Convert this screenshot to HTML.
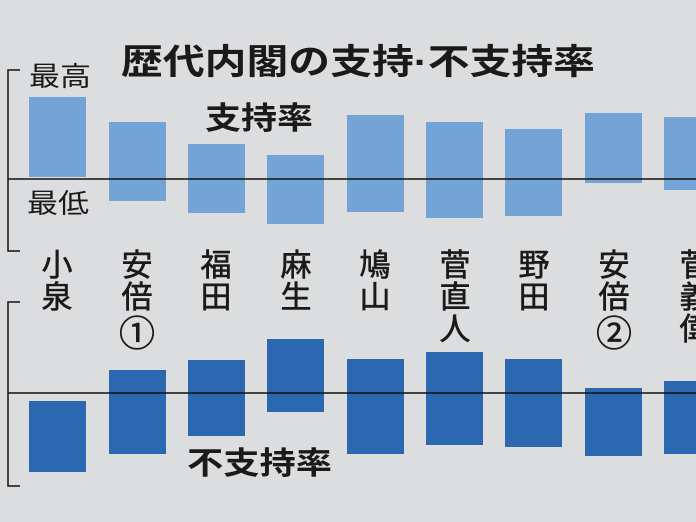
<!DOCTYPE html>
<html><head><meta charset="utf-8"><style>
html,body{margin:0;padding:0;background:#dcdddf;}
svg{display:block}
text{font-family:"Liberation Sans","Noto Sans CJK JP",sans-serif;fill:#1a1a1a}
.b{font-weight:bold}
.n{font-size:31px;text-anchor:middle;stroke:#1a1a1a;stroke-width:0.6}
.c{font-size:36px}
</style></head><body>
<svg width="696" height="522" viewBox="0 0 696 522" xmlns="http://www.w3.org/2000/svg">
<rect width="696" height="522" fill="#dcdddf"/>
<g fill="#74a4d6">
<rect x="29" y="97" width="57" height="80"/>
<rect x="109" y="122" width="57" height="79"/>
<rect x="188" y="144" width="57" height="69"/>
<rect x="267" y="155" width="57" height="69"/>
<rect x="347" y="115" width="57" height="97"/>
<rect x="426" y="122" width="57" height="96"/>
<rect x="505" y="129" width="57" height="87"/>
<rect x="585" y="113" width="57" height="70"/>
<rect x="664" y="117" width="40" height="73"/>
</g>
<g fill="#2c68b0">
<rect x="29" y="401" width="57" height="71"/>
<rect x="109" y="370" width="57" height="84"/>
<rect x="188" y="360" width="57" height="76"/>
<rect x="267" y="339" width="57" height="73"/>
<rect x="347" y="359" width="57" height="95"/>
<rect x="426" y="352" width="57" height="93"/>
<rect x="505" y="359" width="57" height="88"/>
<rect x="585" y="388" width="57" height="68"/>
<rect x="664" y="381" width="40" height="73"/>
</g>
<g stroke="#111" stroke-width="1.5" fill="none">
<line x1="8" y1="179" x2="696" y2="179"/>
<line x1="8" y1="393" x2="696" y2="393"/>
<polyline points="20,70 8,70 8,251 20,251"/>
<polyline points="20,302 8,302 8,486 20,486"/>
</g>
<text class="b" x="121" y="74" font-size="35" textLength="474" lengthAdjust="spacingAndGlyphs">歴代内閣の支持·不支持率</text>
<text class="b" x="205" y="129" font-size="31" textLength="108" lengthAdjust="spacingAndGlyphs">支持率</text>
<text class="b" x="187" y="474" font-size="31" textLength="145" lengthAdjust="spacingAndGlyphs">不支持率</text>
<text x="29" y="86" font-size="27" textLength="62" lengthAdjust="spacingAndGlyphs">最高</text>
<text x="27" y="213" font-size="27" textLength="62" lengthAdjust="spacingAndGlyphs">最低</text>
<g class="n">
<text x="57" y="276">小</text><text x="57" y="308">泉</text>
<text x="137" y="276">安</text><text x="137" y="308">倍</text><text class="c" x="137" y="346">①</text>
<text x="216" y="276">福</text><text x="216" y="308">田</text>
<text x="296" y="276">麻</text><text x="296" y="308">生</text>
<text x="375" y="276">鳩</text><text x="375" y="308">山</text>
<text x="455" y="276">菅</text><text x="455" y="308">直</text><text x="455" y="340">人</text>
<text x="534" y="276">野</text><text x="534" y="308">田</text>
<text x="614" y="276">安</text><text x="614" y="308">倍</text><text class="c" x="614" y="346">②</text>
<text x="695" y="276">菅</text><text x="695" y="308">義</text><text x="695" y="340">偉</text>
</g>
</svg>
</body></html>
